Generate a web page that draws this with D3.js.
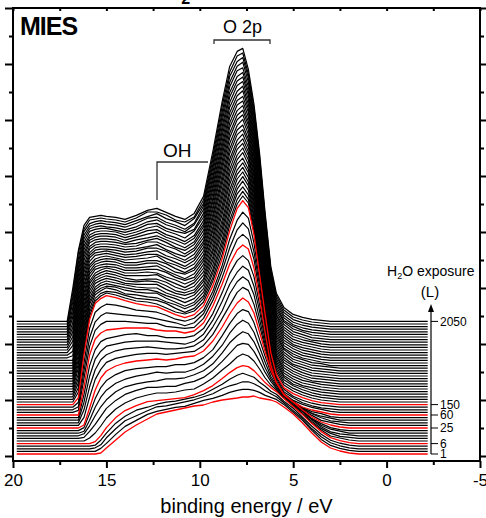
<!DOCTYPE html>
<html>
<head>
<meta charset="utf-8">
<script src="https://cdn.jsdelivr.net/npm/d3@7"></script>
<style>
  body { margin: 0; background: #fff; }
  svg { display: block; font-family: "Liberation Sans", Arial, sans-serif; }
</style>
</head>
<body>
<svg id="chart" width="486" height="518"></svg>
<script>
// binding energy grid (eV) shared by all spectra
const energies = [19.8, 17.1, 16.8, 16.5, 16.2, 15.9, 15.6, 15.3, 15.0, 14.5, 14.0, 13.4, 12.8, 12.3,
  11.8, 11.3, 10.8, 10.3, 9.8, 9.3, 8.8, 8.4, 8.0, 7.7, 7.4, 7.1, 6.8, 6.5, 6.2, 5.9, 5.5, 5.0,
  4.5, 4.0, 3.5, 3.0, 2.5, 2.0, 1.5, 1.0, -2.2];

// MIES intensity (arb. units, above each curve's own baseline), lowest exposure first
const spectra = [
  [0,0,0,0,0,0,0,1,6,14,22,29,35,40,42,44,46,48,49,52,54,55,56,57,57,58,56,55,54,52,47,40,31,21,12,6,3,1,0,0,0],
  [0,0,0,0,0,0,0,3,8,17,25,31,37,40,42,44,45,48,51,53,56,59,61,62,62,61,59,56,54,52,47,39,31,21,12,6,3,1,0,0,0],
  [0,0,0,0,0,0,1,4,11,20,28,33,38,42,43,45,47,49,52,55,60,63,65,67,67,65,62,58,55,52,46,38,30,20,12,6,3,1,0,0,0],
  [0,0,0,0,0,0,1,6,13,23,30,36,39,42,44,45,47,49,52,57,62,67,71,73,71,69,64,60,55,52,45,38,29,20,12,6,3,1,0,0,0],
  [0,0,0,0,0,0,2,8,16,26,33,38,42,43,44,45,46,49,53,58,65,71,76,78,77,73,67,61,56,52,45,37,29,20,12,6,3,1,0,0,0],
  [0,0,0,0,0,3,8,15,23,32,38,43,46,48,48,49,51,52,57,63,71,77,84,87,85,80,72,63,56,51,43,35,27,18,11,5,3,1,0,0,0],
  [0,0,0,0,1,7,14,22,30,38,44,48,51,51,52,52,55,57,61,68,77,85,93,95,94,87,77,66,57,50,41,33,25,17,10,5,2,1,0,0,0],
  [0,0,0,0,2,10,20,29,36,44,49,52,54,55,57,57,58,61,65,72,83,93,100,104,102,94,82,68,57,49,40,31,24,16,9,4,2,1,0,0,0],
  [0,0,0,0,2,13,26,36,43,50,54,57,59,61,60,61,61,64,69,77,88,100,109,113,110,101,86,71,57,48,38,30,22,14,8,4,2,0,0,0,0],
  [0,0,0,0,3,17,32,43,50,56,60,62,63,64,64,66,66,68,73,81,95,107,117,121,119,108,91,74,58,47,36,28,20,12,7,3,1,0,0,0,0],
  [0,0,0,0,3,20,38,50,57,62,65,67,68,69,68,69,71,72,77,87,101,114,125,130,126,115,96,76,58,46,34,26,18,11,6,3,1,0,0,0,0],
  [0,0,0,0,8,28,46,56,63,67,69,71,72,72,71,72,73,74,80,91,107,120,133,138,135,121,100,77,56,43,31,23,16,10,5,3,1,0,0,0,0],
  [0,0,0,0,13,36,53,63,68,72,74,75,76,75,74,74,75,77,83,96,112,129,141,146,142,128,104,78,55,40,28,21,14,9,5,2,1,0,0,0,0],
  [0,0,0,0,18,44,61,69,74,76,78,79,79,79,78,77,76,79,86,100,119,136,148,154,150,134,109,80,53,38,26,18,12,7,4,2,0,0,0,0,0],
  [0,0,0,0,23,52,68,76,79,81,83,84,82,82,80,80,80,82,89,104,125,144,157,162,157,141,113,81,52,35,23,16,10,6,4,1,0,0,0,0,0],
  [0,0,0,0,28,60,76,82,85,86,87,87,87,85,84,84,82,84,92,109,131,151,165,170,166,147,117,82,50,32,20,13,8,5,3,1,0,0,0,0,0],
  [0,0,0,2,34,66,82,88,91,91,91,90,89,89,86,85,84,85,94,112,135,156,173,178,173,153,120,84,50,31,19,12,8,5,3,1,0,0,0,0,0],
  [0,0,0,3,39,72,88,94,97,96,95,94,93,91,89,87,84,87,96,114,139,162,180,187,181,158,124,86,51,31,18,12,7,4,2,1,0,0,0,0,0],
  [0,0,0,5,44,79,95,100,103,102,100,97,96,95,92,88,86,89,97,116,142,168,187,195,189,164,127,88,51,30,18,11,7,4,2,1,0,0,0,0,0],
  [0,0,0,7,50,85,101,106,109,107,104,101,99,98,94,90,87,90,99,119,146,174,196,204,197,170,130,90,52,30,17,11,7,4,2,1,0,0,0,0,0],
  [0,0,0,10,52,86,101,106,109,107,104,101,100,98,94,90,88,91,100,121,148,177,198,206,199,171,131,91,52,30,17,11,7,4,2,1,0,0,0,0,0],
  [0,0,0,12,54,87,101,106,108,107,104,101,100,99,96,91,87,91,101,122,151,179,200,208,200,173,132,91,52,30,17,11,7,4,2,1,0,0,0,0,0],
  [0,0,0,14,56,88,102,106,109,107,103,102,100,99,95,92,88,92,101,124,153,182,203,210,202,174,134,92,52,30,17,11,7,4,2,1,0,0,0,0,0],
  [0,0,0,16,58,90,102,106,108,107,104,102,101,101,96,92,88,92,102,125,155,184,205,213,204,176,135,92,52,30,17,10,7,4,2,1,0,0,0,0,0],
  [0,0,0,18,60,90,102,106,108,106,104,102,102,100,96,93,89,93,103,127,158,187,207,215,206,177,136,93,52,30,16,10,6,4,2,1,0,0,0,0,0],
  [0,0,0,21,62,91,102,106,108,106,104,102,101,101,96,93,90,94,104,129,160,189,210,217,207,179,137,93,53,30,16,10,6,4,2,1,0,0,0,0,0],
  [0,0,0,23,63,92,103,106,108,106,103,102,102,102,97,93,91,94,105,130,162,192,212,219,209,180,138,94,53,30,16,10,6,4,2,1,0,0,0,0,0],
  [0,0,0,25,65,93,103,106,108,106,103,102,103,102,98,93,91,94,105,132,164,194,214,221,211,182,139,94,53,29,16,10,6,3,2,1,0,0,0,0,0],
  [0,0,0,27,67,94,103,106,108,106,103,101,102,102,99,94,91,95,106,133,167,197,217,223,212,183,141,95,53,29,16,10,6,3,2,1,0,0,0,0,0],
  [0,0,0,30,69,95,103,106,108,106,103,103,103,104,99,95,91,96,107,135,169,199,219,226,214,185,142,96,53,29,16,10,6,3,2,1,0,0,0,0,0],
  [0,0,0,31,70,95,103,106,108,106,103,103,104,103,99,96,92,96,108,137,171,202,221,228,216,186,143,96,53,29,16,10,6,3,2,1,0,0,0,0,0],
  [0,0,0,33,72,96,104,106,107,106,103,103,104,104,101,96,93,96,109,138,174,204,224,230,218,188,144,97,53,29,16,9,6,3,2,1,0,0,0,0,0],
  [0,0,0,35,74,97,104,106,107,106,103,103,104,105,100,96,92,97,110,140,176,207,226,232,219,189,145,97,53,29,16,9,6,3,2,1,0,0,0,0,0],
  [0,0,0,37,75,97,104,106,107,106,103,103,105,105,101,96,94,98,110,141,178,209,228,234,221,191,147,98,53,29,16,9,6,3,2,1,0,0,0,0,0],
  [0,0,0,39,77,98,104,106,107,106,103,103,105,105,102,97,93,98,111,143,181,212,231,236,223,192,148,98,53,29,16,9,6,3,2,0,0,0,0,0,0],
  [0,0,0,41,78,98,104,106,107,105,103,104,105,107,101,98,94,99,112,145,183,214,233,238,224,194,149,99,53,29,15,9,5,3,1,0,0,0,0,0,0],
  [0,0,0,43,80,99,105,106,107,105,103,104,106,106,102,98,94,100,113,146,185,217,235,241,226,195,150,100,54,29,15,9,5,3,1,0,0,0,0,0,0],
  [0,0,2,45,81,100,105,106,107,105,103,104,106,107,102,99,95,100,114,148,188,220,238,243,228,196,151,100,54,29,15,9,5,3,1,0,0,0,0,0,0],
  [0,0,4,47,83,100,105,106,106,105,103,104,107,107,104,99,95,101,114,149,190,222,240,245,230,198,153,101,54,29,15,9,5,3,1,0,0,0,0,0,0],
  [0,0,7,49,84,100,105,106,106,105,103,104,106,108,103,99,96,102,115,151,192,225,242,247,231,199,154,101,54,29,15,8,5,3,1,0,0,0,0,0,0],
  [0,0,9,51,85,101,105,106,106,105,103,104,108,108,104,101,96,102,116,152,195,227,245,249,233,201,155,102,54,29,15,8,5,3,1,0,0,0,0,0,0],
  [0,0,11,53,87,101,105,106,106,105,103,104,107,109,105,100,97,103,117,154,197,230,247,251,235,202,156,102,54,29,15,8,5,3,1,0,0,0,0,0,0],
  [0,0,13,55,88,102,105,106,106,105,102,105,107,109,105,101,97,103,118,156,199,232,249,254,236,204,157,103,54,29,15,8,5,3,1,0,0,0,0,0,0],
  [0,0,15,57,89,102,105,106,106,105,102,105,108,110,105,102,98,104,118,157,201,235,251,256,238,205,158,103,54,28,15,8,5,2,1,0,0,0,0,0,0],
  [0,0,17,59,90,102,105,106,106,105,102,105,109,110,105,102,98,104,119,159,204,237,254,258,240,207,160,104,54,28,15,8,5,2,1,0,0,0,0,0,0],
  [0,0,20,61,91,102,105,106,106,105,102,105,109,111,106,103,99,106,120,160,206,240,256,260,242,208,161,105,54,28,15,8,5,2,1,0,0,0,0,0,0],
  [0,0,22,63,92,103,105,106,106,104,102,105,110,111,106,103,101,105,121,162,208,242,258,262,243,210,162,105,55,28,14,8,4,2,1,0,0,0,0,0,0],
  [0,0,24,64,93,103,105,106,105,104,102,105,110,112,107,104,100,107,122,164,211,245,261,264,245,211,163,106,55,28,14,7,4,2,1,0,0,0,0,0,0],
  [0,0,27,66,94,103,105,106,105,104,102,106,111,112,107,104,100,106,123,165,213,247,263,267,247,213,164,106,55,28,14,7,4,2,1,0,0,0,0,0,0],
  [0,0,29,68,95,103,105,106,105,104,102,106,110,113,108,105,101,108,123,167,215,250,265,269,249,214,166,107,55,28,14,7,4,2,1,0,0,0,0,0,0],
  [0,0,31,71,95,104,105,106,105,104,102,106,112,112,109,104,102,107,124,168,218,252,268,271,250,216,167,107,55,28,14,7,4,2,1,0,0,0,0,0,0],
  [0,0,33,71,96,104,105,106,105,104,102,106,111,113,109,105,102,108,125,170,220,255,270,273,252,217,168,108,55,28,14,7,4,2,1,0,0,0,0,0,0]
];

// H2O exposure (L) labels and which curve each belongs to
const exposureLabels = ['1', '6', '25', '60', '150', '2050'];
const labelCurves = [0, 4, 10, 15, 19, 51];
const redCurves = [0, 4, 10, 15, 19];

const xTicks = [20, 15, 10, 5, 0, -5];
const xMinorTicks = [17.5, 12.5, 7.5, 2.5, -2.5];
const offset0 = 2;
const offsetStep = 2.6;

const svg = d3.select('#chart');
const x = d3.scaleLinear().domain([20, -5]).range([13, 480]);
const y = d3.scaleLinear().domain([-5, 448]).range([461, 8]);

const baseOf = k => offset0 + k * offsetStep;

// waterfall curves: black first, red ones drawn on top
const curves = svg.append('g').attr('fill', 'none');
const drawCurve = (row, k, color, w) => {
  const line = d3.line()
    .x((d, i) => x(energies[i]))
    .y(d => y(baseOf(k) + d));
  curves.append('path')
    .datum(row)
    .attr('d', line)
    .attr('stroke', color)
    .attr('stroke-width', w)
    .attr('stroke-linejoin', 'round');
};
spectra.forEach((row, k) => {
  if (!redCurves.includes(k)) drawCurve(row, k, '#000', 1.2);
});
redCurves.forEach(k => drawCurve(spectra[k], k, '#ff0000', 1.3));

// axes
const styleAxis = (sel, fs) => {
  sel.select('.domain').remove();
  sel.selectAll('line').attr('stroke', '#000').attr('stroke-width', 2);
  sel.selectAll('text').attr('fill', '#000').attr('font-size', fs)
    .attr('font-family', '"Liberation Sans", Arial, sans-serif');
};
svg.append('g').attr('transform', 'translate(0,461)')
  .call(d3.axisBottom(x).tickValues(xTicks).tickSize(7).tickPadding(6).tickFormat(d => String(d)))
  .call(styleAxis, 17);
svg.append('g').attr('transform', 'translate(0,461)')
  .call(d3.axisBottom(x).tickValues(xMinorTicks).tickSize(4).tickFormat(''))
  .call(styleAxis, 17);
svg.append('g').attr('transform', 'translate(0,8)')
  .call(d3.axisTop(x).tickValues(xTicks.concat(xMinorTicks)).tickSize(-3).tickFormat(''))
  .call(styleAxis, 17);

const yMajor = d3.range(0, 449, 56);
const yMinor = d3.range(28, 448, 56);
svg.append('g').attr('transform', 'translate(13,0)')
  .call(d3.axisLeft(y).tickValues(yMajor).tickSize(8).tickFormat(''))
  .call(styleAxis, 17);
svg.append('g').attr('transform', 'translate(13,0)')
  .call(d3.axisLeft(y).tickValues(yMinor).tickSize(4).tickFormat(''))
  .call(styleAxis, 17);
svg.append('g').attr('transform', 'translate(480,0)')
  .call(d3.axisRight(y).tickValues(yMajor).tickSize(7).tickFormat(''))
  .call(styleAxis, 17);
svg.append('g').attr('transform', 'translate(480,0)')
  .call(d3.axisRight(y).tickValues(yMinor).tickSize(4).tickFormat(''))
  .call(styleAxis, 17);

svg.append('rect')
  .attr('x', 13).attr('y', 8).attr('width', 467).attr('height', 453)
  .attr('fill', 'none').attr('stroke', '#000').attr('stroke-width', 2);

svg.append('text')
  .attr('x', (x(20) + x(-5)) / 2).attr('y', 513)
  .attr('text-anchor', 'middle').attr('font-size', 20)
  .text('binding energy / eV');

// title cut off at the top edge, only the subscript peeks in
const title = svg.append('text').attr('x', 164).attr('y', -1)
  .attr('font-size', 24).attr('font-weight', 'bold');
title.append('tspan').text('H');
title.append('tspan').attr('font-size', 16).attr('dy', 5).text('2');
title.append('tspan').attr('dy', -5).text('O');

svg.append('text')
  .attr('x', 20).attr('y', 35)
  .attr('font-size', 25).attr('font-weight', 'bold').attr('letter-spacing', -1)
  .text('MIES');

// band labels
svg.append('text').attr('x', 223).attr('y', 33).attr('font-size', 18).text('O 2p');
svg.append('path')
  .attr('d', 'M214,44V40H270V44')
  .attr('fill', 'none').attr('stroke', '#333').attr('stroke-width', 1.3);
svg.append('text').attr('x', 163).attr('y', 157).attr('font-size', 19).text('OH');
svg.append('path')
  .attr('d', 'M157,200V162H208')
  .attr('fill', 'none').attr('stroke', '#333').attr('stroke-width', 1.3);

// exposure scale on the right
const ex = svg.append('g');
const hText = ex.append('text').attr('x', 387).attr('y', 276).attr('font-size', 14);
hText.append('tspan').text('H');
hText.append('tspan').attr('font-size', 9).attr('dy', 3).text('2');
hText.append('tspan').attr('dy', -3).text('O exposure');
ex.append('text').attr('x', 430).attr('y', 297).attr('text-anchor', 'middle')
  .attr('font-size', 15).text('(L)');
ex.append('line')
  .attr('x1', 431).attr('x2', 431)
  .attr('y1', y(baseOf(0))).attr('y2', 311)
  .attr('stroke', '#000').attr('stroke-width', 1.2);
ex.append('path').attr('d', 'M431,304L428,312L434,312Z').attr('fill', '#000');
labelCurves.forEach((k, i) => {
  const yy = y(baseOf(k));
  ex.append('line')
    .attr('x1', 431).attr('x2', 438).attr('y1', yy).attr('y2', yy)
    .attr('stroke', '#000').attr('stroke-width', 1);
  ex.append('text')
    .attr('x', 440).attr('y', yy).attr('dy', '0.35em')
    .attr('font-size', 12).text(exposureLabels[i]);
});
</script>
</body>
</html>
